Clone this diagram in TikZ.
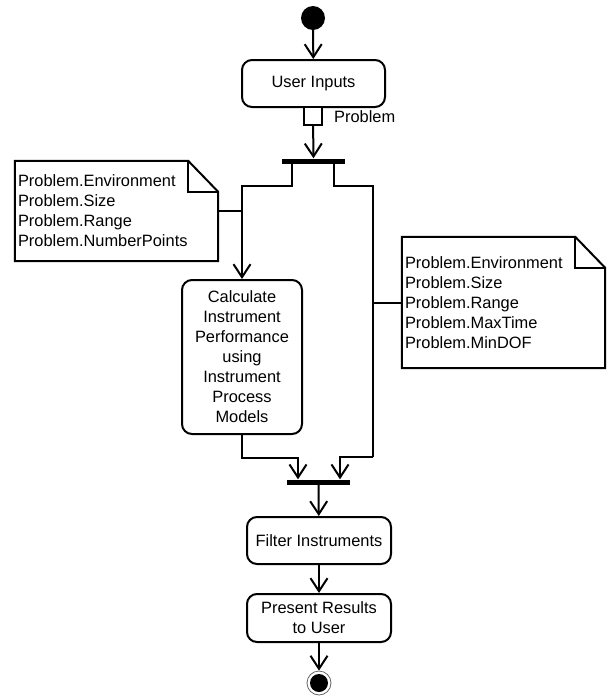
\documentclass[tikz,border=0pt]{standalone}
\usepackage{fontspec}
\setmainfont{Liberation Sans}
\usetikzlibrary{arrows.meta}
\begin{document}
\begin{tikzpicture}[x=1pt,y=-1pt,
  every node/.style={font=\fontsize{16.4}{20}\selectfont},
  act/.style={draw,line width=2pt,rounded corners=10pt,align=center,inner sep=0pt},
  bar/.style={fill=black,draw=none,inner sep=0pt,minimum height=5pt},
  note/.style={draw=none,align=left,inner xsep=3pt,inner ysep=0pt},
  ln/.style={line width=2pt},
  arr/.style={line width=2pt,-{Straight Barb[length=13pt,width=17pt]}},
  noteline/.style={line width=2pt,line join=miter}
]
\useasboundingbox (0,0) rectangle (610,697);
% start
\node[circle,fill=black,minimum size=24pt,inner sep=0pt] (start) at (313,18) {};
\node[act,minimum width=143pt,minimum height=47pt] (ui) at (313.5,83.5) {User Inputs};
\node[draw,line width=1.5pt,minimum size=18pt,inner sep=0pt,fill=white] (pin) at (313,116) {};
\node[anchor=west,inner sep=0pt] (plabel) at (334,117) {Problem};
\node[bar,minimum width=63pt] (fork) at (313.5,161) {};
\node[act,minimum width=120pt,minimum height=154pt] (calc) at (242,357) {Calculate\\Instrument\\Performance\\using\\Instrument\\Process\\Models};
\node[bar,minimum width=63pt] (join) at (318.5,482) {};
\node[act,minimum width=144pt,minimum height=47pt] (filter) at (319,540.5) {Filter Instruments};
\node[act,minimum width=144pt,minimum height=48pt] (present) at (319,618) {Present Results\\to User};
\node[circle,draw=black!60,line width=0.8pt,minimum size=24pt,inner sep=0pt] (endo) at (319,683) {};
\node[circle,fill=black,minimum size=18pt,inner sep=0pt] (endi) at (319,683) {};
% notes
\node[note,text width=197pt,minimum width=203pt,minimum height=100pt] (noteL) at (116.5,211)
  {Problem.Environment\\Problem.Size\\Problem.Range\\Problem.NumberPoints};
\node[note,text width=197pt,minimum width=203pt,minimum height=131pt] (noteR) at (503.5,302.5)
  {Problem.Environment\\Problem.Size\\Problem.Range\\Problem.MaxTime\\Problem.MinDOF};
\foreach \n in {noteL,noteR}{
  \draw[noteline] (\n.south west) -- (\n.north west) -- ([xshift=-30pt]\n.north east)
    -- ([yshift=-31pt]\n.north east) -- (\n.south east) -- cycle;
  \draw[noteline] ([xshift=-30pt]\n.north east) -- ([xshift=-30pt,yshift=-31pt]\n.north east)
    -- ([yshift=-31pt]\n.north east);
}
\coordinate (rc) at (373,457);
% connectors
\draw[arr] (start) -- (ui);
\draw[arr] (pin) -- (fork);
\draw[arr] ([xshift=-21.5pt]fork.south) -- ++(0,22) -| (calc.north);
\draw[ln] ([xshift=20.5pt]fork.south) -- ++(0,22) -| (rc);
\draw[arr] (rc) -| ([xshift=21.5pt]join.north);
\draw[arr] (calc.south) -- ++(0,23) -| ([xshift=-20.5pt]join.north);
\draw[ln] (noteL.east) -- (noteL.east -| calc.north);
\draw[ln] (noteR.west) -- (noteR.west -| rc);
\draw[arr] (join) -- (filter);
\draw[arr] (filter) -- (present);
\draw[arr] (present) -- (endo);
\end{tikzpicture}
\end{document}
